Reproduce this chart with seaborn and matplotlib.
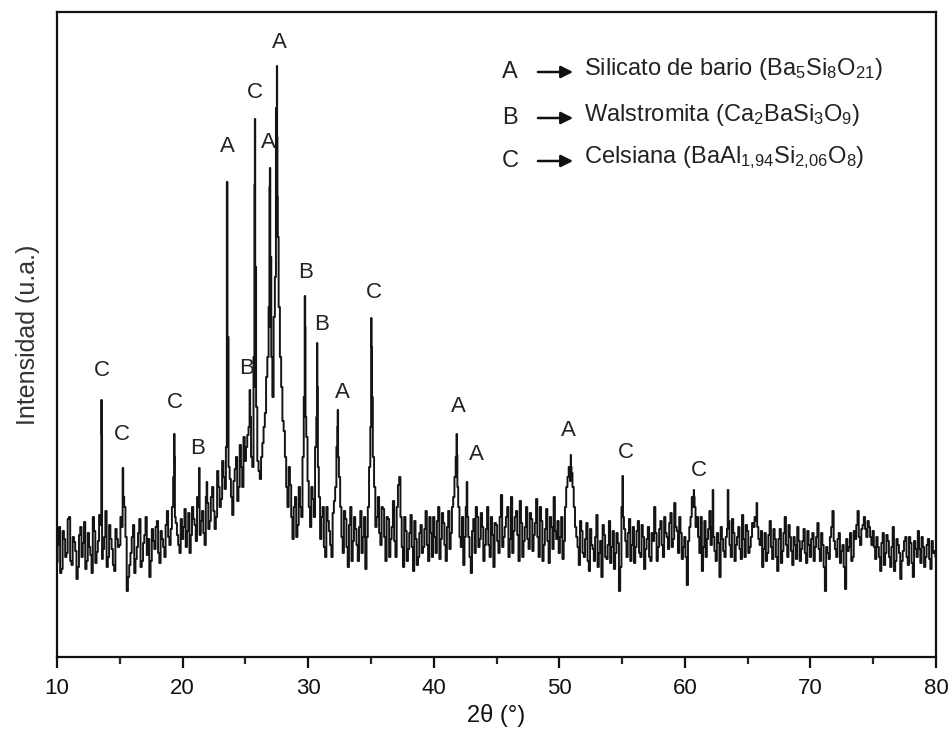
"""
Difractograma DRX - fases cristalinas (silicato de bario, walstromita, celsiana)
"""
import numpy as np
import pandas as pd
import matplotlib
matplotlib.use("Agg")
import matplotlib.pyplot as plt
import seaborn as sns

sns.set_theme(style="white")
plt.rcParams['font.family'] = ['Liberation Sans', 'DejaVu Sans']
plt.rcParams['mathtext.default'] = 'regular'

# --- datos (intensidad en u.a.) ---
# fondo medido cada 0.2 grados, de 10.0 a 80.0
fondo_a = [
    # 10.0 - 14.8
    95, 130, 88, 118, 104, 140, 92, 115, 78, 122, 100, 135, 96, 110, 84, 126, 105, 142, 98, 120, 90, 132, 108, 86, 118,
    # 15.0 - 19.8
    112, 130, 150, 66, 92, 120, 84, 110, 138, 96, 122, 102, 80, 128, 108, 136, 94, 118, 100, 146, 112, 150, 140, 122, 104,
    # 20.0 - 24.8
    118, 148, 126, 104, 150, 132, 160, 122, 146, 112, 154, 136, 170, 128, 186, 150, 196, 168, 230, 178, 142, 188, 156, 212, 170,
    # 25.0 - 29.8
    196, 222, 240, 190, 270, 196, 178, 214, 244, 300, 330, 260, 380, 420, 300, 236, 200, 150, 172, 118, 160, 132, 150, 200, 240,
    # 30.0 - 34.8
    176, 130, 158, 210, 190, 118, 150, 100, 136, 112, 144, 170, 200, 150, 104, 138, 90, 150, 116, 128, 96, 146, 120, 88, 150,
    # 35.0 - 39.8
    230, 200, 130, 160, 112, 148, 96, 138, 118, 156, 100, 172, 140, 90, 126, 108, 142, 86, 118, 100, 132, 110, 146, 96, 124,
    # 40.0 - 44.8
    140, 104, 150, 118, 134, 96, 146, 124, 160, 200, 150, 110, 92, 150, 120, 84, 138, 150, 110, 144, 96, 128, 112, 140, 90,
    # 45.0 - 49.8
    132, 104, 162, 120, 140, 100, 160, 126, 146, 96, 134, 116, 150, 108, 138, 122, 158, 100, 136, 112, 148, 94, 130, 160, 118,
    # 50.0 - 54.8
    104, 140, 116, 170, 190, 184, 150, 120, 92, 126, 100, 134, 86, 112, 96, 142, 104, 80, 122, 98, 136, 110, 88, 124, 66,
    # 55.0 - 59.8
    150, 128, 100, 138, 112, 94, 126, 104, 132, 88, 118, 100, 124, 150, 96, 128, 112, 140, 120, 134, 110, 154, 126, 140, 98,
    # 60.0 - 64.8
    120, 72, 130, 160, 150, 140, 104, 86, 136, 118, 146, 130, 106, 124, 80, 118, 100, 128, 112, 138, 96, 120, 108, 142, 100,
    # 65.0 - 69.8
    126, 110, 134, 140, 130, 112, 90, 124, 104, 136, 98, 118, 86, 128, 106, 140, 100, 120, 92, 112, 130, 96, 116, 104, 126,
    # 70.0 - 74.8
    100, 124, 110, 134, 96, 112, 66, 104, 120, 146, 108, 118, 94, 112, 68, 106, 124, 100, 118, 146, 112, 132, 128, 136, 120,
    # 75.0 - 79.8
    126, 98, 110, 86, 124, 104, 116, 90, 130, 96, 112, 78, 106, 120, 92, 114, 80, 108, 126, 94, 110, 100, 118, 88, 104,
    # 80.0
    100,
]
# puntos intermedios, de 10.1 a 79.9 cada 0.2 grados
fondo_b = [
    # 10.1 - 14.9
    112, 84, 126, 100, 138, 96, 120, 106, 90, 130, 114, 88, 124, 102, 140, 94, 116, 132, 108, 146, 100, 118, 92, 128, 110,
    # 15.1 - 19.9
    140, 160, 120, 80, 104, 132, 98, 124, 90, 114, 140, 118, 96, 116, 130, 104, 126, 110, 132, 120, 128, 180, 134, 112, 138,
    # 20.1 - 24.9
    130, 110, 144, 122, 138, 116, 150, 136, 124, 160, 128, 160, 146, 140, 170, 158, 180, 210, 190, 160, 176, 200, 170, 190, 220,
    # 25.1 - 29.9
    210, 230, 200, 300, 250, 186, 200, 230, 280, 350, 300, 340, 480, 350, 270, 226, 170, 190, 140, 150, 120, 170, 140, 260, 220,
    # 30.1 - 34.9
    150, 170, 140, 240, 160, 140, 110, 150, 126, 100, 156, 210, 180, 120, 146, 110, 132, 96, 140, 112, 130, 104, 140, 120, 190,
    # 35.1 - 39.9
    260, 170, 140, 124, 150, 120, 140, 100, 130, 116, 150, 180, 110, 140, 96, 124, 110, 136, 92, 124, 104, 128, 112, 140, 100,
    # 40.1 - 44.9
    120, 136, 98, 144, 112, 130, 108, 150, 180, 170, 120, 140, 120, 140, 100, 126, 104, 140, 118, 130, 112, 150, 100, 122, 134,
    # 45.1 - 49.9
    116, 140, 110, 130, 150, 118, 104, 140, 122, 156, 100, 130, 118, 144, 106, 134, 120, 150, 96, 128, 116, 140, 108, 126, 136,
    # 50.1 - 54.9
    120, 98, 150, 180, 176, 170, 130, 110, 136, 104, 118, 96, 128, 108, 120, 90, 116, 132, 100, 112, 94, 126, 104, 114, 90,
    # 55.1 - 59.9
    140, 116, 124, 96, 130, 110, 136, 100, 120, 108, 130, 96, 116, 124, 110, 136, 100, 124, 108, 144, 118, 130, 104, 124, 110,
    # 60.1 - 64.9
    100, 116, 140, 150, 130, 120, 140, 110, 100, 128, 112, 120, 96, 114, 130, 106, 120, 136, 100, 124, 112, 130, 98, 118, 132,
    # 65.1 - 69.9
    104, 120, 130, 136, 118, 126, 108, 96, 122, 110, 128, 100, 118, 94, 124, 112, 132, 106, 120, 98, 116, 108, 128, 94, 112,
    # 70.1 - 74.9
    118, 96, 120, 108, 124, 90, 110, 98, 130, 116, 100, 124, 106, 90, 118, 110, 96, 126, 132, 120, 128, 140, 120, 130, 112,
    # 75.1 - 79.9
    110, 120, 100, 114, 92, 122, 100, 110, 86, 118, 104, 96, 116, 100, 120, 94, 116, 100, 108, 120, 90, 112, 98, 116, 106,
]

# picos de difracción (posición 2θ, intensidad)
pico_x = [13.55, 13.58, 15.25, 19.35, 19.38, 21.32, 21.93, 23.55, 23.62, 25.37,
          25.74, 25.77, 25.81, 26.93, 26.97, 27.03, 27.47, 27.52, 27.54, 27.57,
          29.75, 29.78, 30.72, 30.75, 32.33, 32.37, 35.03, 35.07, 41.83, 41.87,
          42.65, 50.92, 50.95, 55.05, 60.72, 60.75, 62.23, 63.43, 65.72]
pico_y = [257, 222, 189, 223, 200, 189, 175, 475, 320, 267,
          472, 538, 390, 470, 489, 400, 549, 591, 520, 460,
          361, 330, 314, 270, 230, 247, 339, 310, 223, 202,
          175, 202, 190, 181, 167, 160, 167, 167, 154]

# etiquetas de fase sobre los picos (letra, 2θ, altura)
etiq_letra = ['C', 'C', 'C', 'B', 'A', 'B', 'C', 'A', 'A', 'B', 'B', 'A', 'C',
              'A', 'A', 'A', 'C', 'C']
etiq_x = [13.58, 15.18, 19.4, 21.23, 23.6, 25.13, 25.76, 26.8, 27.68, 29.83,
          31.1, 32.7, 35.24, 41.93, 43.36, 50.76, 55.3, 61.1]
etiq_y = [287, 222, 254, 209, 511, 288, 564, 514, 615, 385,
          332, 265, 365, 250, 203, 226, 205, 186]

# leyenda de fases
leyenda_letra = ['A', 'B', 'C']
leyenda_texto = ['Silicato de bario (Ba$_5$Si$_8$O$_{21}$)',
                 'Walstromita (Ca$_2$BaSi$_3$O$_9$)',
                 'Celsiana (BaAl$_{1{,}94}$Si$_{2{,}06}$O$_8$)']

# --- armar serie ---
x_a = 10.0 + 0.2 * np.arange(len(fondo_a))
x_b = 10.1 + 0.2 * np.arange(len(fondo_b))
df = pd.DataFrame({
    'x': np.concatenate([x_a, x_b, pico_x]),
    'y': np.concatenate([fondo_a, fondo_b, pico_y]),
}).sort_values('x')

fig = plt.figure(figsize=(9.52, 7.33), dpi=100)
ax = fig.add_axes([57 / 952, 76 / 733, 879 / 952, 645 / 733])

sns.lineplot(data=df, x='x', y='y', ax=ax, color='#141414', linewidth=1.4,
             drawstyle='steps-mid', estimator=None, sort=True)

ax.set_xlim(10, 80)
ax.set_ylim(0, 645)
ax.set_xticks(np.arange(10, 81, 10))
ax.set_xticks(np.arange(15, 80, 10), minor=True)
ax.set_yticks([])
ax.tick_params(axis='x', which='major', direction='out', length=8, width=1.6,
               labelsize=16, colors='#111111', bottom=True, pad=7)
ax.tick_params(axis='x', which='minor', direction='out', length=5, width=1.6,
               bottom=True)
for s in ax.spines.values():
    s.set_color('#111111')
    s.set_linewidth(1.6)

ax.set_xlabel('2θ (°)', fontsize=17, labelpad=4, color='#111111')
ax.set_ylabel('Intensidad (u.a.)', fontsize=18, labelpad=12, color='#333333')

# letras sobre picos
for letra, xx, yy in zip(etiq_letra, etiq_x, etiq_y):
    ax.text(xx, yy, letra, fontsize=16, ha='center', va='center', color='#222222')

# leyenda con flechas
ley_y = [585, 539, 496]
for letra, texto, yy in zip(leyenda_letra, leyenda_texto, ley_y):
    ax.text(46.1, yy, letra, fontsize=17, ha='center', va='center', color='#222222')
    ax.annotate('', xy=(51.1, yy), xytext=(48.3, yy),
                arrowprops=dict(arrowstyle='-|>', color='#111111', lw=1.8,
                                mutation_scale=18, shrinkA=0, shrinkB=0))
    ax.text(52.0, yy + 3, texto, fontsize=17, ha='left', va='center', color='#222222')

fig.savefig('out.png', dpi=100)
